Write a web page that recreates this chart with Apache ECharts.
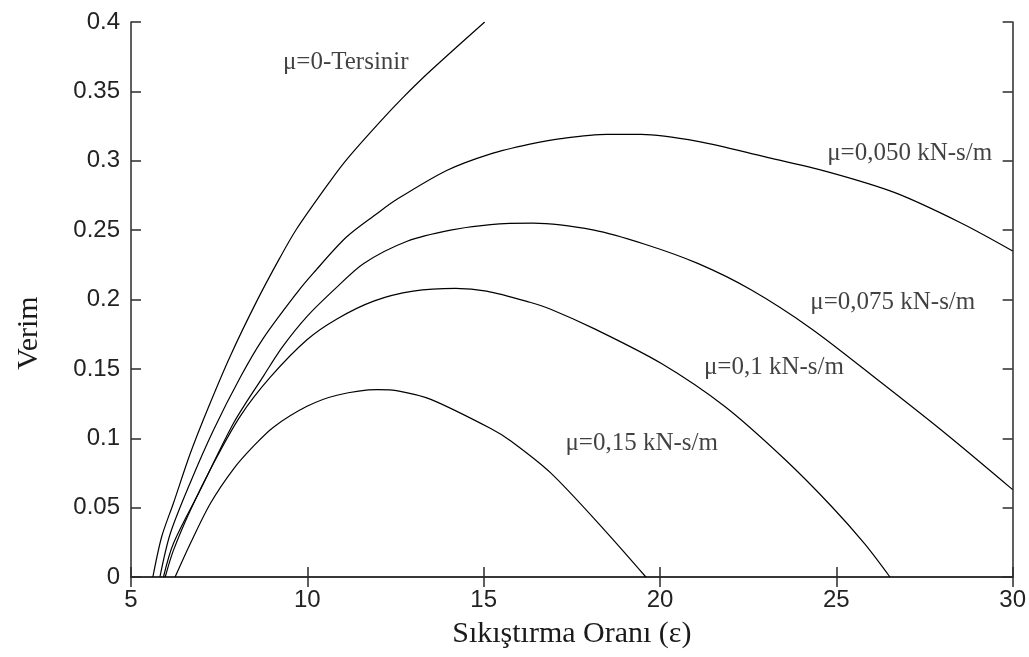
<!DOCTYPE html>
<html>
<head>
<meta charset="utf-8">
<script src="https://cdn.jsdelivr.net/npm/echarts/dist/echarts.min.js"></script>
<style>
  html, body { margin: 0; padding: 0; background: #fff; }
  #chart { width: 1029px; height: 657px; }
</style>
</head>
<body>
<div id="chart"></div>
<script>
// efficiency curves, [compression ratio, efficiency]
const mu0 = [[5.62,0],[5.87,0.029],[6.2,0.053],[6.68,0.089],[7.19,0.122],[7.81,0.159],[8.57,0.199],[9.22,0.23],[9.7,0.251],[10.64,0.285],[11.12,0.301],[12.06,0.328],[12.73,0.346],[13.5,0.365],[15.03,0.4]];
const mu050 = [[5.82,0],[6.11,0.031],[6.68,0.068],[7.34,0.106],[8.1,0.144],[8.75,0.172],[9.71,0.205],[10.17,0.219],[11.11,0.245],[11.98,0.262],[12.53,0.272],[13.95,0.293],[15.2,0.305],[16.31,0.312],[17.19,0.316],[18.5,0.319],[19.46,0.319],[21.07,0.314],[22.96,0.303],[24.76,0.292],[26.66,0.277],[28.55,0.255],[30,0.235]];
const mu075 = [[5.92,0],[6.2,0.024],[6.97,0.063],[7.91,0.111],[8.76,0.145],[9.3,0.166],[10.0,0.188],[10.8,0.208],[11.6,0.226],[12.83,0.242],[14.06,0.25],[15.2,0.254],[16.4,0.255],[18.13,0.25],[19.55,0.24],[21.07,0.226],[22.58,0.207],[24.29,0.179],[26.18,0.142],[28.07,0.104],[30,0.063]];
const mu100 = [[5.97,0],[6.2,0.019],[6.68,0.048],[7.34,0.082],[8.1,0.116],[8.95,0.144],[9.99,0.171],[10.84,0.186],[11.9,0.199],[13.0,0.206],[14.2,0.208],[15.08,0.206],[16.31,0.198],[16.9,0.193],[18.13,0.179],[20.03,0.154],[21.83,0.123],[23.53,0.085],[24.86,0.051],[25.8,0.024],[26.52,0]];
const mu150 = [[6.25,0],[6.68,0.024],[7.25,0.053],[7.91,0.078],[8.5,0.095],[9.04,0.108],[9.99,0.123],[10.84,0.131],[11.98,0.135],[12.6,0.134],[13.5,0.128],[15.2,0.107],[15.77,0.098],[16.9,0.075],[18.42,0.034],[19.6,0]];

const curves = [mu0, mu050, mu075, mu100, mu150];
const labelText = ['μ=0-Tersinir', 'μ=0,050 kN-s/m', 'μ=0,075 kN-s/m', 'μ=0,1 kN-s/m', 'μ=0,15 kN-s/m'];
const labelAt = [[11.09,0.371],[27.08,0.3056],[26.6,0.198],[23.23,0.151],[19.48,0.0966]];

const xTicks = { min: 5, max: 30, interval: 5 };
const yTicks = { min: 0, max: 0.4, interval: 0.05 };

const chart = echarts.init(document.getElementById('chart'));

const frame = { show: true, lineStyle: { color: '#2b2b2b', width: 1.5 } };
const tick = { show: true, inside: true, length: 10, lineStyle: { color: '#2b2b2b', width: 1.5 } };
const tickFont = { color: '#222', fontFamily: 'Liberation Sans', fontSize: 24 };
const serif = 'Liberation Serif';

const series = curves.map((d) => ({
  type: 'line',
  data: d,
  smooth: 0.3,
  showSymbol: false,
  lineStyle: { color: '#000', width: 1.2 },
  silent: true,
  z: 3,
}));

series.push({
  type: 'scatter',
  data: labelAt.map((p, i) => ({ value: p, name: labelText[i] })),
  symbolSize: 0,
  silent: true,
  label: {
    show: true,
    position: 'inside',
    formatter: (p) => p.name,
    fontFamily: serif,
    fontSize: 25,
    color: '#111',
  },
});

chart.setOption({
  animation: false,
  backgroundColor: '#fff',
  grid: { left: 131, right: 16, top: 22, bottom: 80 },
  xAxis: [
    {
      type: 'value', ...xTicks,
      axisLine: frame, axisTick: tick, splitLine: { show: false },
      axisLabel: { ...tickFont, margin: 11 },
      name: 'Sıkıştırma Oranı (ε)',
      nameLocation: 'middle',
      nameGap: 42,
      nameTextStyle: { fontFamily: serif, fontSize: 30, color: '#1a1a1a' },
    },
    {
      type: 'value', ...xTicks, position: 'top',
      axisLine: frame, axisTick: tick, splitLine: { show: false },
      axisLabel: { show: false },
    },
  ],
  yAxis: [
    {
      type: 'value', ...yTicks,
      axisLine: frame, axisTick: tick, splitLine: { show: false },
      axisLabel: { ...tickFont, margin: 11 },
    },
    {
      type: 'value', ...yTicks, position: 'right',
      axisLine: frame, axisTick: tick, splitLine: { show: false },
      axisLabel: { show: false },
    },
  ],
  graphic: [
    {
      type: 'text',
      x: 29, y: 333,
      rotation: Math.PI / 2,
      style: {
        text: 'Verim',
        fontFamily: serif,
        fontSize: 30,
        fill: '#1a1a1a',
        textAlign: 'center',
        textVerticalAlign: 'middle',
      },
    },
  ],
  series,
});
</script>
</body>
</html>
